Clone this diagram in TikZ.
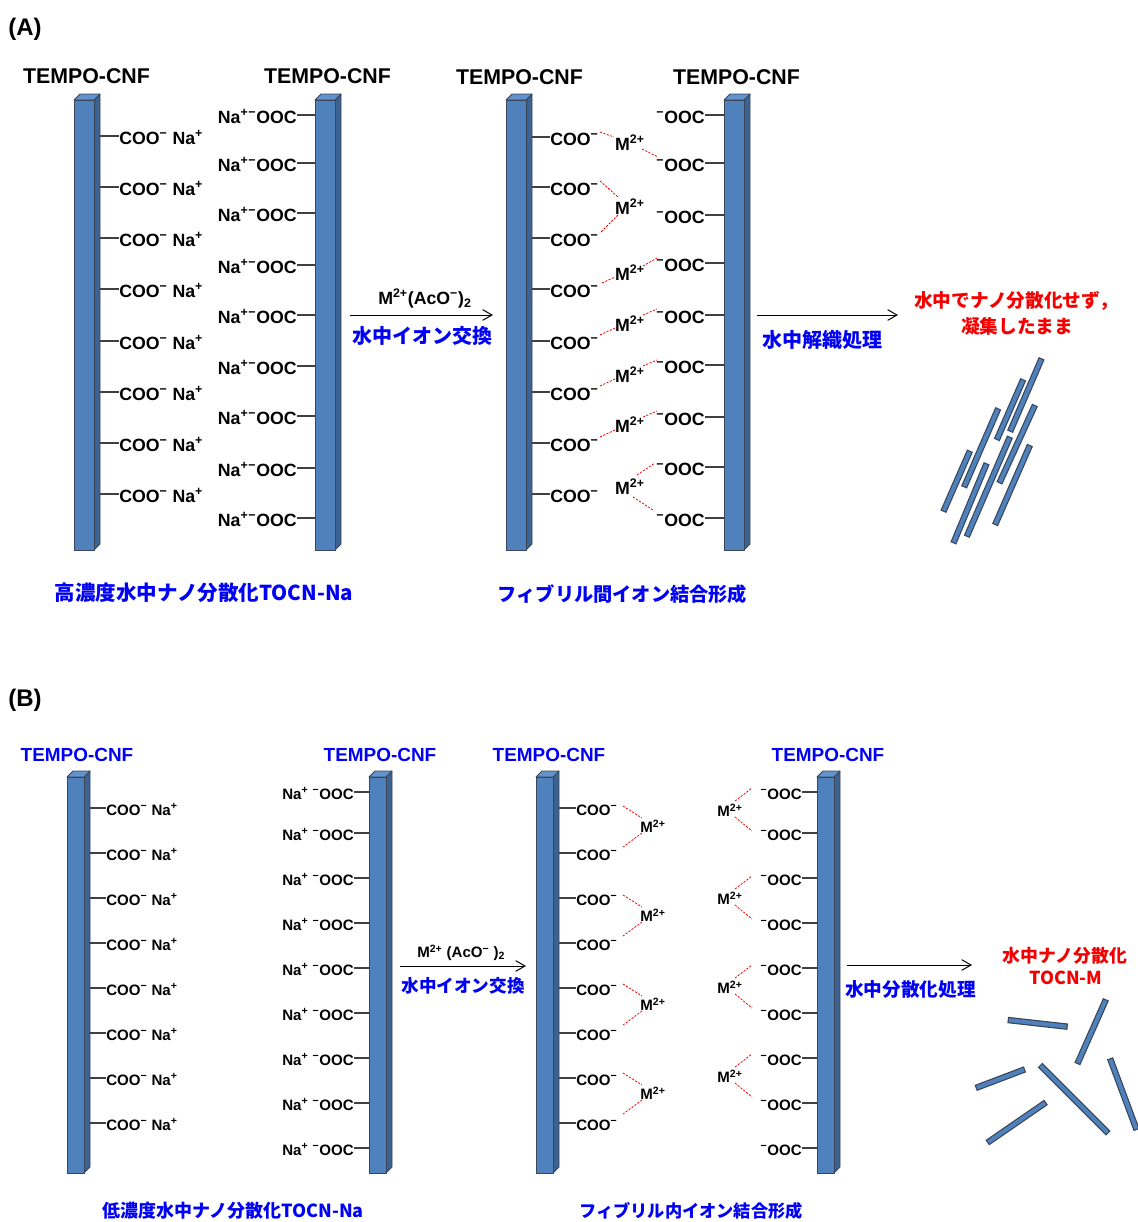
\documentclass[tikz,border=0pt]{standalone}
\usepackage{fontspec}
\setmainfont{Liberation Sans}
\newfontfamily\jp{Noto Sans CJK JP}
\usetikzlibrary{arrows.meta,calc}

\definecolor{barblue}{RGB}{79,129,189}
\definecolor{barsidec}{RGB}{60,98,146}
\definecolor{bartopc}{RGB}{100,146,204}
\definecolor{baredge}{RGB}{58,70,88}
\definecolor{stubgray}{RGB}{64,64,64}
\definecolor{txtblue}{RGB}{0,0,245}
\definecolor{txtred}{RGB}{245,0,0}

% one fibril drawn as a bar with a bit of depth: name, x, top, bottom, width
\newcommand{\cnfbar}[5]{%
  \filldraw[barsidec, draw=baredge, line width=0.6pt, line join=round]
    (#2+#5,#3) -- ++(6,-6) -- (#2+#5+6,#4-6) -- (#2+#5,#4) -- cycle;
  \filldraw[bartopc, draw=baredge, line width=0.6pt, line join=round]
    (#2,#3) -- ++(6,-6) -- (#2+#5+6,#3-6) -- (#2+#5,#3) -- cycle;
  \node[barfront, anchor=north west, minimum width={#5*0.75pt},
        minimum height={(#4-#3)*0.75pt}] (#1) at (#2,#3) {};
}

\tikzset{
  barfront/.style={draw=baredge, fill=barblue, line width=0.6pt, inner sep=0pt, outer sep=0pt},
  stub/.style={draw=stubgray, line width=1.5pt},
  bond/.style={draw=txtred, line width=0.6pt, dash pattern=on 1.6pt off 1.1pt},
  rxn/.style={draw=black, line width=0.75pt, -{Straight Barb[length=7pt,width=8pt,line width=0.75pt]}},
  rod/.style={draw=baredge, line width=4.8pt, line cap=butt,
    postaction={draw=barblue, line width=3pt, shorten >=0.9pt, shorten <=0.9pt}},
  lblA/.style={font=\fontsize{13.3}{15}\selectfont\bfseries, inner sep=0pt},
  lblB/.style={font=\fontsize{11.3}{13}\selectfont\bfseries, inner sep=0pt},
  panel/.style={font=\fontsize{18}{20}\selectfont\bfseries, inner sep=0pt},
  titleA/.style={font=\fontsize{16}{18}\selectfont\bfseries, inner sep=0pt, anchor=base},
  titleB/.style={font=\fontsize{14.2}{16}\selectfont\bfseries, inner sep=0pt, anchor=base, text=txtblue},
  jpA/.style={font=\jp\bfseries\fontsize{15}{17}\selectfont, inner sep=0pt, text=txtblue},
  jpB/.style={font=\jp\bfseries\fontsize{13.2}{15}\selectfont, inner sep=0pt, text=txtblue},
  redA/.style={font=\jp\bfseries\fontsize{14}{16}\selectfont, inner sep=0pt, text=txtred},
  redB/.style={font=\jp\bfseries\fontsize{13.4}{15}\selectfont, inner sep=0pt, text=txtred},
}

\begin{document}
\begin{tikzpicture}[x=0.75pt, y=-0.75pt]
\useasboundingbox (0,0) rectangle (1138,1222);

%================ (A) =================
\node[panel, anchor=base west] (panelA) at (8,35) {(A)};
\node[titleA] (tA1) at (86.5,83.5) {TEMPO-CNF};
\node[titleA] (tA2) at (327.5,83.5) {TEMPO-CNF};
\node[titleA] (tA3) at (519.5,84) {TEMPO-CNF};
\node[titleA] (tA4) at (736.5,84) {TEMPO-CNF};

\cnfbar{bA1}{74}{100}{550}{20}
\cnfbar{bA2}{315}{100}{550}{20}
\cnfbar{bA3}{506}{100}{550}{20}
\cnfbar{bA4}{724}{100}{550}{20}

% sodium carboxylate groups
\foreach \y [count=\i] in {136,187,238,289,341,392,443,494} {
  \coordinate (sA1\i) at (100,\y);
  \node[lblA, anchor=base west] (lA1\i) at (119,\y+8.5) {COO\textsuperscript{−} Na\textsuperscript{+}};
  \draw[stub] (sA1\i) -- (sA1\i -| lA1\i.west);
}
\foreach \y [count=\i] in {115,163,213,265,315,366,416,468,518} {
  \coordinate (sA2\i) at (315,\y);
  \node[lblA, anchor=base east] (lA2\i) at (297,\y+8.5) {Na\textsuperscript{+}\textsuperscript{−}OOC};
  \draw[stub] (sA2\i) -- (sA2\i -| lA2\i.east);
}
% carboxylates bridged by divalent ions
\foreach \y [count=\i] in {137,187,238,289,341,392,443,494} {
  \coordinate (sA3\i) at (532,\y);
  \node[lblA, anchor=base west] (lA3\i) at (550,\y+8.5) {COO\textsuperscript{−}};
  \draw[stub] (sA3\i) -- (sA3\i -| lA3\i.west);
}
\foreach \y [count=\i] in {115,163,215,263,315,365,417,467,518} {
  \coordinate (sA4\i) at (724,\y);
  \node[lblA, anchor=base east] (lA4\i) at (705,\y+8.5) {\textsuperscript{−}OOC};
  \draw[stub] (sA4\i) -- (sA4\i -| lA4\i.east);
}
\foreach \y [count=\i] in {143,207,273,324,375,425,487} {
  \node[lblA, anchor=base] (mA\i) at (630,\y+7) {M\textsuperscript{2+}};
}
\draw[bond] (600,132) -- (614,137);
\draw[bond] (642,149) -- (658,157);
\draw[bond] (600,181) -- (618,197);
\draw[bond] (618,215) -- (600,233);
\draw[bond] (602,283) -- (615,277);
\draw[bond] (643,266) -- (657,258);
\draw[bond] (600,335) -- (615,328);
\draw[bond] (643,315) -- (657,309);
\draw[bond] (600,386) -- (615,379);
\draw[bond] (643,366) -- (657,360);
\draw[bond] (600,437) -- (615,430);
\draw[bond] (643,417) -- (657,411);
\draw[bond] (637,475) -- (655,463);
\draw[bond] (633,497) -- (653,510);

% reaction arrows
\coordinate (aA1s) at (350,315);
\coordinate (aA1e) at (493,315);
\draw[rxn] (aA1s) -- (aA1e);
\node[lblA, anchor=base west] (rA1) at (378,304.5) {M\textsuperscript{2+}(AcO\textsuperscript{−})\textsubscript{2}};
\node[jpA] (jA1) at (422.5,335.5) {水中イオン交換};

\coordinate (aA2s) at (757,315);
\coordinate (aA2e) at (898,315);
\draw[rxn] (aA2s) -- (aA2e);
\node[jpA] (jA2) at (822.5,340) {水中解織処理};

\node[redA] (redA1) at (1016,301) {水中でナノ分散化せず，};
\node[redA] (redA2) at (1017,326) {凝集したまま};

% aggregated fibrils
\draw[rod] (1041.7,358.3) -- (1010,431.7);
\draw[rod] (1023.3,379.3) -- (996.7,440);
\draw[rod] (998.3,408.3) -- (964,487.3);
\draw[rod] (970,450.7) -- (943.3,511.7);
\draw[rod] (1035,405) -- (999.3,483.3);
\draw[rod] (1010,436.7) -- (966.7,536.7);
\draw[rod] (986.7,463.3) -- (953.3,543.3);
\draw[rod] (1030,445) -- (995,525);

\node[jpA, font=\jp\bfseries\fontsize{15.4}{17}\selectfont] (capA1) at (204,593) {高濃度水中ナノ分散化TOCN-Na};
\node[jpA, font=\jp\bfseries\fontsize{14.4}{16}\selectfont] (capA2) at (622.5,594) {フィブリル間イオン結合形成};

%================ (B) =================
\node[panel, anchor=base west] (panelB) at (8,706) {(B)};
\node[titleB] (tB1) at (77,761.7) {TEMPO-CNF};
\node[titleB] (tB2) at (380,761.7) {TEMPO-CNF};
\node[titleB] (tB3) at (549,761.7) {TEMPO-CNF};
\node[titleB] (tB4) at (828,761.7) {TEMPO-CNF};

\cnfbar{bB1}{67}{777}{1173}{17}
\cnfbar{bB2}{369}{777}{1173}{17}
\cnfbar{bB3}{536}{777}{1173}{17}
\cnfbar{bB4}{817}{777}{1173}{17}

\foreach \y [count=\i] in {808,853,898,943,988,1033,1078,1123} {
  \coordinate (sB1\i) at (90,\y);
  \node[lblB, anchor=base west] (lB1\i) at (106,\y+7) {COO\textsuperscript{−} Na\textsuperscript{+}};
  \draw[stub] (sB1\i) -- (sB1\i -| lB1\i.west);
}
\foreach \y [count=\i] in {792,833,878,923,968,1013,1058,1103,1148} {
  \coordinate (sB2\i) at (369,\y);
  \node[lblB, anchor=base east] (lB2\i) at (354,\y+7) {Na\textsuperscript{+} \textsuperscript{−}OOC};
  \draw[stub] (sB2\i) -- (sB2\i -| lB2\i.east);
}
\foreach \y [count=\i] in {808,853,898,943,988,1033,1078,1123} {
  \coordinate (sB3\i) at (559,\y);
  \node[lblB, anchor=base west] (lB3\i) at (576,\y+7) {COO\textsuperscript{−}};
  \draw[stub] (sB3\i) -- (sB3\i -| lB3\i.west);
}
\foreach \y [count=\i] in {792,833,878,923,968,1013,1058,1103,1148} {
  \coordinate (sB4\i) at (817,\y);
  \node[lblB, anchor=base east] (lB4\i) at (802,\y+7) {\textsuperscript{−}OOC};
  \draw[stub] (sB4\i) -- (sB4\i -| lB4\i.east);
}
\foreach \y [count=\i] in {827,916,1005,1094} {
  \node[lblB, anchor=base] (mBl\i) at (653,\y+5.5) {M\textsuperscript{2+}};
  \draw[bond] (623,\y-21) -- (642,\y-9);
  \draw[bond] (642,\y+6) -- (623,\y+20);
}
\foreach \y [count=\i] in {811,899,988,1077} {
  \node[lblB, anchor=base] (mBr\i) at (730,\y+5.5) {M\textsuperscript{2+}};
  \draw[bond] (735,\y-10) -- (752,\y-23);
  \draw[bond] (735,\y+6) -- (752,\y+20);
}

\coordinate (aB1s) at (400,966);
\coordinate (aB1e) at (526,966);
\draw[rxn] (aB1s) -- (aB1e);
\node[lblB, anchor=base west] (rB1) at (417,957.3) {M\textsuperscript{2+} (AcO\textsuperscript{−} )\textsubscript{2}};
\node[jpB] (jB1) at (463,985.5) {水中イオン交換};

\coordinate (aB2s) at (847,965);
\coordinate (aB2e) at (972,965);
\draw[rxn] (aB2s) -- (aB2e);
\node[jpB, font=\jp\bfseries\fontsize{14}{16}\selectfont] (jB2) at (910.5,989) {水中分散化処理};

\node[redB] (redB1) at (1065,955.5) {水中ナノ分散化};
\node[redB] (redB2) at (1066,978) {TOCN-M};

% dispersed fibrils
\draw[rod] (1007.7,1020) -- (1067.7,1026.7);
\draw[rod] (1106,999.3) -- (1077.3,1064);
\draw[rod] (1110,1058.3) -- (1136.7,1130);
\draw[rod] (1040,1065) -- (1108.3,1133.3);
\draw[rod] (1025,1069.3) -- (975.7,1088);
\draw[rod] (1046,1102.3) -- (987.3,1142.7);

\node[jpB, font=\jp\bfseries\fontsize{13.5}{15}\selectfont] (capB1) at (233,1211) {低濃度水中ナノ分散化TOCN-Na};
\node[jpB, font=\jp\bfseries\fontsize{12.9}{15}\selectfont] (capB2) at (691,1211) {フィブリル内イオン結合形成};
\end{tikzpicture}
\end{document}
